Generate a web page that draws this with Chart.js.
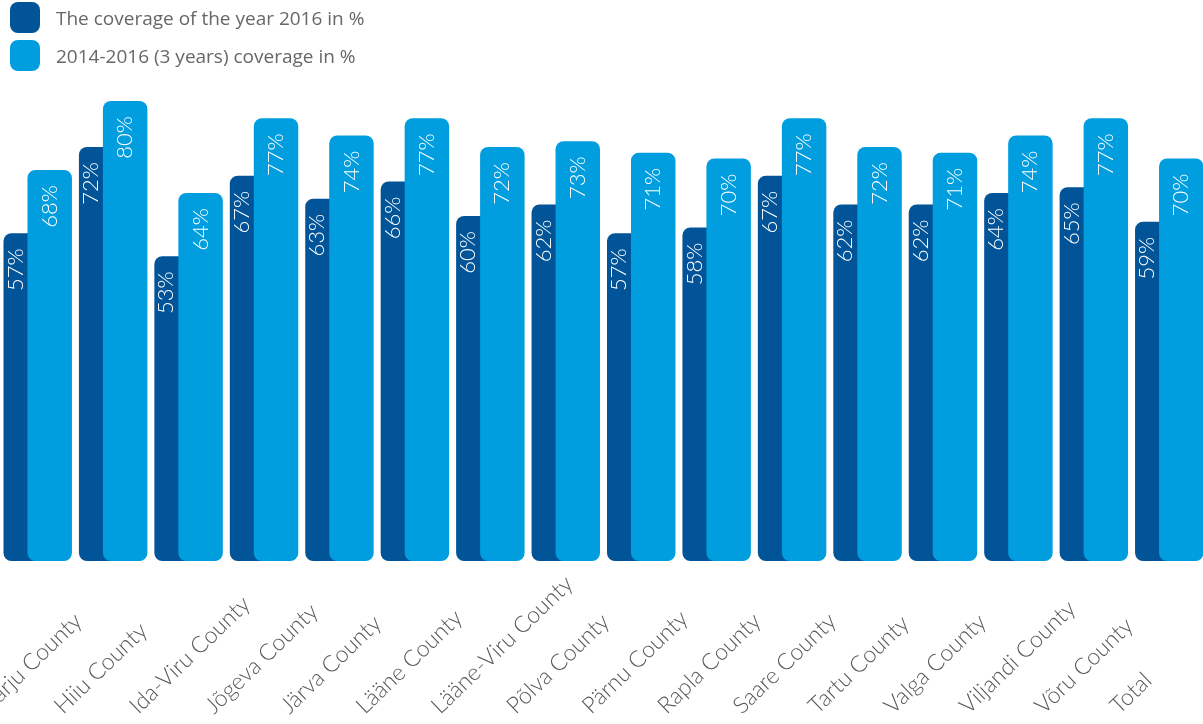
<!DOCTYPE html>
<html lang="en">
<head>
    <meta charset="UTF-8">
    <title>Coverage by county</title>
    <script src="https://cdn.jsdelivr.net/npm/chart.js"></script>
    <style>
        body { margin: 0; overflow: hidden; background: #fff; font-family: "Open Sans", sans-serif; }
        #wrap { position: relative; width: 1208px; height: 724px; }
        #grafico { position: absolute; left: 0; top: 0; }
        /* legend sits over the top-left corner of the canvas */
        #legend { position: absolute; left: 10px; top: 2px; }
        .item { display: flex; align-items: center; height: 31px; margin-bottom: 7px; color: #676767; font-size: 19px; }
        .box { width: 30px; height: 31px; border-radius: 8px; margin-right: 16px; }
    </style>
</head>
<body>
<div id="wrap">
    <canvas id="grafico" width="1208" height="724"></canvas>
    <div id="legend"></div>
</div>
<script>
    const counties = [
        "Harju County", "Hiiu County", "Ida-Viru County", "Jõgeva County",
        "Järva County", "Lääne County", "Lääne-Viru County", "Põlva County",
        "Pärnu County", "Rapla County", "Saare County", "Tartu County",
        "Valga County", "Viljandi County", "Võru County", "Total"
    ];
    const coverage2016 = [57, 72, 53, 67, 63, 66, 60, 62, 57, 58, 67, 62, 62, 64, 65, 59];
    const coverage3y   = [68, 80, 64, 77, 74, 77, 72, 73, 71, 70, 77, 72, 71, 74, 77, 70];
    const seriesNames = ["The coverage of the year 2016 in %", "2014-2016 (3 years) coverage in %"];

    const darkBlue = "#005497";
    const lightBlue = "#009ddf";

    // legend
    const legend = document.getElementById("legend");
    [darkBlue, lightBlue].forEach((color, i) => {
        const item = document.createElement("div");
        item.className = "item";
        item.innerHTML = `<span class="box" style="background:${color}"></span><span>${seriesNames[i]}</span>`;
        legend.appendChild(item);
    });

    // the 3-year bars sit in front of the 2016 bars:
    // skip them in the normal pass and paint them right after dataset 0
    const layering = {
        id: "layering",
        beforeDatasetDraw(chart, args) {
            if (args.index === 1) return false;
        },
        afterDatasetDraw(chart, args) {
            if (args.index === 0) chart.getDatasetMeta(1).controller.draw();
        }
    };

    // white % values written upward near the top of each bar
    const valueLabels = {
        id: "valueLabels",
        afterDatasetsDraw(chart) {
            const ctx = chart.ctx;
            const front = chart.getDatasetMeta(1).data;
            ctx.save();
            ctx.fillStyle = "#fff";
            ctx.font = "300 22px Lato, sans-serif";
            ctx.textAlign = "right";
            ctx.textBaseline = "middle";
            chart.data.datasets.forEach((ds, d) => {
                chart.getDatasetMeta(d).data.forEach((bar, i) => {
                    let cx = bar.x;
                    if (d === 0) {
                        // only the left strip of the back bar is visible
                        const left = bar.x - bar.width / 2;
                        cx = (left + front[i].x - front[i].width / 2) / 2;
                    }
                    ctx.save();
                    ctx.translate(cx, bar.y + 15);
                    ctx.rotate(-Math.PI / 2);
                    ctx.fillText(ds.data[i] + "%", 0, 0);
                    ctx.restore();
                });
            });
            ctx.restore();
        }
    };

    // slanted county names under the bars
    const countyLabels = {
        id: "countyLabels",
        afterDraw(chart) {
            const ctx = chart.ctx;
            const x = chart.scales.x;
            ctx.save();
            ctx.fillStyle = "#585858";
            ctx.font = "300 23px Lato, sans-serif";
            ctx.textAlign = "left";
            ctx.textBaseline = "alphabetic";
            counties.forEach((name, i) => {
                ctx.save();
                ctx.translate(x.getPixelForValue(i) - 50, 715);
                ctx.rotate(-44 * Math.PI / 180);
                ctx.fillText(name, 0, 0);
                ctx.restore();
            });
            ctx.restore();
        }
    };

    const ctx = document.getElementById("grafico").getContext("2d");
    new Chart(ctx, {
        type: "bar",
        data: {
            labels: counties,
            datasets: [
                { label: seriesNames[0], data: coverage2016, backgroundColor: darkBlue },
                { label: seriesNames[1], data: coverage3y, backgroundColor: lightBlue }
            ]
        },
        options: {
            responsive: false,
            animation: false,
            layout: { padding: { top: 101, bottom: 163, left: 0, right: 1 } },
            datasets: {
                bar: {
                    categoryPercentage: 0.636,
                    barPercentage: 1.854,
                    borderRadius: 8,
                    borderSkipped: false
                }
            },
            scales: {
                x: { display: false },
                y: { display: false, min: 0, max: 80 }
            },
            plugins: {
                legend: { display: false },
                tooltip: { enabled: false }
            }
        },
        plugins: [layering, valueLabels, countyLabels]
    });
</script>
</body>
</html>
